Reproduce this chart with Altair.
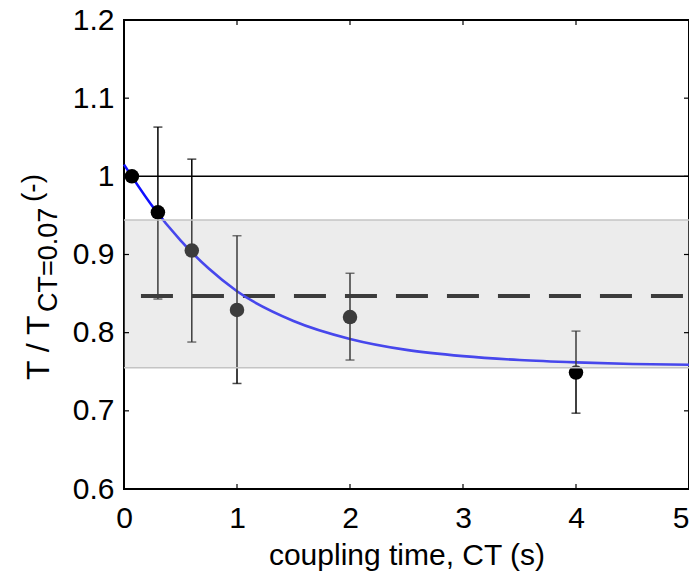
import altair as alt
import pandas as pd

# ---- data ----
ct = [0.07, 0.3, 0.6, 1.0, 2.0, 4.0]
ratio = [1.0, 0.954, 0.905, 0.829, 0.820, 0.749]

err_ct = [0.3, 0.6, 1.0, 2.0, 4.0]
err_hi = [1.063, 1.022, 0.924, 0.876, 0.802]
err_lo = [0.843, 0.788, 0.735, 0.765, 0.697]

fit_x = [0, 0.25, 0.5, 0.75, 1.0, 1.5, 2.0, 2.5, 3.0, 3.5, 4.0, 4.5, 5.0]
fit_y = [1.015, 0.962, 0.918, 0.882, 0.853, 0.815, 0.792, 0.778, 0.770, 0.765, 0.762, 0.760, 0.759]

band_lo, band_hi = 0.755, 0.944
mean_val = 0.847
mean_start = 0.15
ref_val = 1.0

x_ticks = [0, 1, 2, 3, 4, 5]
y_ticks = [0.6, 0.7, 0.8, 0.9, 1.0, 1.1, 1.2]

y_title_main = "T / T"
y_title_sub = "CT=0.07"
y_title_unit = "(-)"
x_title = "coupling time, CT (s)"

# ---- layout ----
W, H = 565, 469
FONT = "Liberation Sans"
FS = 30

xs = alt.Scale(domain=[0, 5], nice=False, zero=False)
ys = alt.Scale(domain=[0.6, 1.2], nice=False, zero=False)

x_axis = alt.Axis(values=x_ticks, title=x_title, grid=False, ticks=False, domain=False,
                  labelFontSize=FS, titleFontSize=FS, titleFontWeight="normal",
                  labelPadding=14, titlePadding=7, labelFlush=False, format="~g",
                  labelAlign={"condition": {"test": "datum.value == 5", "value": "right"},
                              "value": "center"},
                  labelColor="black", titleColor="black", labelFont=FONT, titleFont=FONT)
y_axis = alt.Axis(values=y_ticks, title=None, grid=False, ticks=False, domain=False,
                  labelFontSize=FS, labelPadding=10, labelFlush=False, format="~g",
                  labelColor="black", labelFont=FONT)

def X(f="x"):
    return alt.X(f"{f}:Q", scale=xs, axis=x_axis)

def Y(f="y"):
    return alt.Y(f"{f}:Q", scale=ys, axis=y_axis)

pts_df = pd.DataFrame({"x": ct, "y": ratio})
err_df = pd.DataFrame({"x": err_ct, "y": err_lo, "y2": err_hi})
cap_df = pd.DataFrame({"x": err_ct * 2, "y": err_lo + err_hi})
fit_df = pd.DataFrame({"x": fit_x, "y": fit_y})
band_df = pd.DataFrame({"x": [0], "x2": [5], "y": [band_lo], "y2": [band_hi]})
edge_df = pd.DataFrame({"x": [0, 0], "x2": [5, 5], "y": [band_lo, band_hi]})
mean_df = pd.DataFrame({"x": [mean_start], "x2": [5], "y": [mean_val]})
ref_df = pd.DataFrame({"x": [0], "x2": [5], "y": [ref_val]})
xt_df = pd.DataFrame({"x": x_ticks})
yt_df = pd.DataFrame({"y": y_ticks})

ref_line = alt.Chart(ref_df).mark_rule(color="black", strokeWidth=1.5).encode(
    x=X(), x2="x2:Q", y=Y())
mean_line = alt.Chart(mean_df).mark_rule(color="black", strokeWidth=4, strokeDash=[32, 19]).encode(
    x=X(), x2="x2:Q", y=Y())
fit_line = alt.Chart(fit_df).mark_line(color="#1010ff", strokeWidth=2.6, interpolate="monotone").encode(
    x=X(), y=Y())
err_rules = alt.Chart(err_df).mark_rule(color="black", strokeWidth=1.5).encode(
    x=X(), y=Y(), y2="y2:Q")
err_caps = alt.Chart(cap_df).mark_tick(color="black", orient="horizontal", size=9, thickness=1.5).encode(
    x=X(), y=Y())
points = alt.Chart(pts_df).mark_circle(color="black", size=210, opacity=1).encode(
    x=X(), y=Y())
band = alt.Chart(band_df).mark_rect(color="#c2c2c2", opacity=0.31).encode(
    x=X(), x2="x2:Q", y=Y(), y2="y2:Q")
band_edges = alt.Chart(edge_df).mark_rule(color="#c4c4c4", strokeWidth=1.5).encode(
    x=X(), x2="x2:Q", y=Y())

tick_len = 5
xt_bottom = alt.Chart(xt_df).mark_rule(color="black", strokeWidth=1.2).encode(
    x=X(), y=alt.value(H), y2=alt.value(H - tick_len))
xt_top = alt.Chart(xt_df).mark_rule(color="black", strokeWidth=1.2).encode(
    x=X(), y=alt.value(0), y2=alt.value(tick_len))
yt_left = alt.Chart(yt_df).mark_rule(color="black", strokeWidth=1.2).encode(
    y=Y(), x=alt.value(0), x2=alt.value(tick_len))
yt_right = alt.Chart(yt_df).mark_rule(color="black", strokeWidth=1.2).encode(
    y=Y(), x=alt.value(W), x2=alt.value(W - tick_len))

one = alt.Data(values=[{"k": 1}])
t_main = alt.Chart(one).mark_text(text=y_title_main, angle=270, align="left", baseline="middle",
                                  fontSize=32, font=FONT, color="black").encode(
    x=alt.value(-85), y=alt.value(360))
t_sub = alt.Chart(one).mark_text(text=y_title_sub, angle=270, align="left", baseline="middle",
                                 fontSize=27, font=FONT, color="black").encode(
    x=alt.value(-75), y=alt.value(292))
t_unit = alt.Chart(one).mark_text(text=y_title_unit, angle=270, align="left", baseline="middle",
                                  fontSize=28, font=FONT, color="black").encode(
    x=alt.value(-91), y=alt.value(182))

chart = alt.layer(
    ref_line, mean_line, fit_line, err_rules, err_caps, points, band, band_edges,
    xt_bottom, xt_top, yt_left, yt_right, t_main, t_sub, t_unit
).properties(
    width=W, height=H,
    autosize=alt.AutoSizeParams(type="none"),
    padding={"left": 116, "top": 12, "right": 0, "bottom": 87},
    background="white",
).configure_view(
    stroke="black", strokeWidth=2
).configure_axis(labelFont=FONT, titleFont=FONT)

chart.save("out.html", embed_options={"renderer": "svg", "actions": False})
